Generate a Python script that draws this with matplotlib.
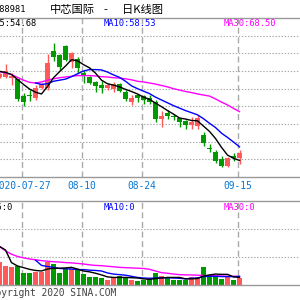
import matplotlib
matplotlib.use("Agg")
import matplotlib.pyplot as plt
import numpy as np

plt.rcParams['lines.scale_dashes'] = False

# trading-day index, 0 = 2020-07-27 (the left 4 days are 07-21 .. 07-24)
days = np.arange(-4, 37)

opens = [78.3, 78.3, 78.0, 77.6, 73.0, 73.0, 72.4, 75.3, 75.2, 85.6, 84.6, 87.1, 82.6, 83.5,
         79.4, 78.3, 76.8, 76.1, 75.2, 74.95, 76.35, 74.1, 71.3, 73.1, 72.85, 72.4, 71.1, 66.3,
         68.1, 67.2, 66.6, 65.8, 64.7, 64.4, 61.9, 58.3, 57.1, 55.1, 53.2, 56.0, 55.3]
highs = [79.5, 82.0, 79.4, 77.8, 73.8, 74.6, 76.0, 76.6, 84.8, 88.0, 84.9, 87.3, 85.4, 83.9,
         80.4, 78.7, 77.1, 77.1, 76.6, 76.8, 76.6, 74.75, 73.3, 73.5, 73.3, 73.3, 71.8, 68.8,
         69.1, 67.9, 66.8, 66.0, 66.9, 67.6, 62.85, 59.3, 57.6, 56.0, 55.8, 56.7, 57.6]
lows = [78.0, 77.9, 76.0, 71.6, 70.0, 71.6, 71.8, 74.8, 74.7, 82.9, 80.4, 82.8, 80.9, 79.5,
        76.6, 76.3, 74.0, 73.8, 74.7, 74.0, 74.0, 71.65, 70.5, 71.3, 70.7, 70.8, 65.6, 64.1,
        66.3, 66.0, 64.1, 63.6, 63.5, 63.5, 58.8, 57.2, 54.1, 52.7, 52.9, 54.6, 53.7]
closes = [79.2, 79.9, 78.5, 72.1, 71.1, 72.8, 75.3, 76.3, 82.3, 84.0, 81.2, 83.2, 85.15, 80.8,
          78.5, 76.7, 75.7, 75.2, 76.0, 76.35, 74.3, 72.2, 72.4, 72.4, 71.9, 71.3, 66.3, 67.4,
          67.2, 67.0, 65.7, 64.7, 65.6, 66.6, 59.5, 58.0, 54.6, 53.2, 55.5, 55.3, 56.7]

ma5 = [79.9, 79.6, 79.0, 77.6, 76.2, 74.9, 74.0, 73.5, 75.6, 78.1, 79.8, 81.4, 83.2, 82.9,
       81.8, 80.9, 79.4, 77.4, 76.4, 76.0, 75.5, 74.8, 74.2, 73.5, 72.6, 72.0, 70.9, 69.9,
       68.8, 67.8, 66.7, 66.4, 66.0, 65.9, 64.4, 62.9, 60.9, 58.4, 56.2, 55.3, 54.68]
ma10 = [None] * 6 + [76.6, 76.2, 76.4, 77.1, 77.4, 77.7, 78.4, 79.2, 80.0, 80.4, 80.4, 80.3,
                     79.7, 78.9, 78.2, 77.1, 75.8, 75.0, 74.3, 73.6, 72.6, 71.8, 71.0, 70.2,
                     69.5, 68.8, 68.2, 67.6, 66.5, 65.2, 64.0, 62.4, 61.2, 59.9, 58.53]
ma30 = [79.8, 79.4, 79.0, 78.2, 77.4, 76.8, 76.6, 76.9, 77.4, 77.8, 78.1, 78.3, 78.5, 78.7,
        78.7, 78.7, 78.6, 78.4, 78.3, 78.1, 78.0, 77.8, 77.5, 77.1, 76.9, 76.6, 76.3, 75.9,
        75.5, 75.0, 74.6, 74.2, 73.9, 73.5, 73.2, 72.9, 72.1, 71.2, 70.4, 69.4, 68.50]

volumes = [83, 68, 65, 69, 44, 44, 48, 48, 83, 75, 44, 57, 57, 54, 39, 30, 30, 26, 18, 30, 32,
           30, 18, 14, 18, 21, 42, 32, 24, 18, 18, 18, 30, 30, 65, 36, 36, 21, 32, 18, 26]
vol_ma5 = [138, 125, 80, 68, 62, 56, 52, 50, 57, 60, 60, 61, 63, 57, 50, 47, 42, 36, 29, 27,
           27, 27, 26, 25, 22, 20, 23, 25, 27, 27, 27, 22, 22, 23, 32, 36, 39, 38, 38, 29, 27]
vol_ma10 = [None] * 6 + [89, 70, 66, 63, 59, 58, 57, 55, 55, 53, 52, 50, 43, 39, 37, 35, 31,
                         27, 25, 24, 25, 26, 26, 25, 24, 22, 24, 25, 30, 31, 31, 30, 30, 30, 31]
vol_ma30 = [137, 122, 110, 102, 97, 93, 90, 87, 85, 83, 82, 80, 79, 77, 75, 72, 70, 69, 67, 65,
            63, 62, 61, 60, 59, 56, 50, 44, 42, 39, 37, 36, 36, 35, 34, 33, 33, 32, 31, 31, 30]
vol_ma_labels = [0, 0, 0]

date_days = [0, 10, 20, 36]
date_labels = ["2020-07-27", "08-10", "08-24", "09-15"]

RED = '#ff5a5a'
GREEN = '#009a00'
GRID = '#aaaaaa'
MONO = 'DejaVu Sans Mono'
CJK = ['Noto Sans CJK SC', 'DejaVu Sans']

opens = np.array(opens); closes = np.array(closes)
highs = np.array(highs); lows = np.array(lows)
up = closes >= opens
colors = np.where(up, RED, GREEN)

def to_float(a):
    return np.array([np.nan if v is None else v for v in a], dtype=float)

fig = plt.figure(figsize=(3, 3), dpi=100)
fig.patch.set_facecolor('white')

def fx(px):
    return px / 300.0

def fy(py):
    return 1 - py / 300.0

ax = fig.add_axes([0, fy(177), 1, 159 / 300])
axv = fig.add_axes([0, fy(285), 1, 84 / 300])

xlim = (-23.5 / 6, 276.5 / 6)
for a in (ax, axv):
    a.set_xlim(*xlim)
    a.set_xticks([])
    a.set_yticks([])
    for s in ('left', 'right'):
        a.spines[s].set_visible(False)
    for s in ('top', 'bottom'):
        a.spines[s].set_color('#999999')
        a.spines[s].set_linewidth(1.0)
    for d in date_days:
        a.axvline(d - 0.3, color=GRID, lw=1.0, linestyle=(0, (4.3, 2.6)), zorder=0)

# price panel
ax.set_ylim(50, 95)
for y in range(55, 95, 5):
    ax.axhline(y, color=GRID, lw=0.8, linestyle=(0, (1, 1.2)), zorder=0)

ax.vlines(days, lows, highs, colors=colors, lw=1.0, zorder=2)
body_bottom = np.minimum(opens, closes)
body_h = np.maximum(np.abs(closes - opens), 0.3)
ax.bar(days, body_h, bottom=body_bottom, width=0.8, color=colors, edgecolor='none', zorder=3)

ax.plot(days, ma30, color='#ff00ff', lw=1.0, zorder=4)
ax.plot(days, to_float(ma10), color='#0000ff', lw=1.0, zorder=4)
ax.plot(days, ma5, color='black', lw=1.0, zorder=5)

# volume panel
axv.set_ylim(0, 300)
for y in (100, 200):
    axv.axhline(y, color=GRID, lw=0.8, linestyle=(0, (1, 1.2)), zorder=0)
axv.bar(days, volumes, width=0.8, color=colors, edgecolor='none', zorder=2)
axv.plot(days, vol_ma30, color='#ff00ff', lw=1.0, zorder=3)
axv.plot(days, to_float(vol_ma10), color='#0000ff', lw=1.0, zorder=3)
axv.plot(days, vol_ma5, color='black', lw=1.0, zorder=4)

# texts
fig.text(fx(26), fy(10), "688981", fontsize=6.3, family=MONO, ha='right', va='center')
fig.text(fx(50), fy(10), "中芯国际", fontsize=8.1, family=CJK, ha='left', va='center')
fig.text(fx(105), fy(10), "-", fontsize=8.1, family=CJK, ha='center', va='center')
fig.text(fx(122), fy(10), "日K线图", fontsize=8.1, family=CJK, ha='left', va='center')

fig.text(fx(-10.4), fy(24), "MA5:%.2f" % ma5[-1], fontsize=6.3, family=MONO,
         color='black', ha='left', va='center')
fig.text(fx(104), fy(24), "MA10:%.2f" % ma10[-1], fontsize=6.3, family=MONO,
         color='#0000ff', ha='left', va='center')
fig.text(fx(224), fy(24), "MA30:%.2f" % ma30[-1], fontsize=6.3, family=MONO,
         color='#ff00ff', ha='left', va='center')

fig.text(fx(-13.6), fy(207), "MA5:%d" % vol_ma_labels[0], fontsize=6.3, family=MONO,
         color='black', ha='left', va='center')
fig.text(fx(104), fy(207), "MA10:%d" % vol_ma_labels[1], fontsize=6.3, family=MONO,
         color='#0000ff', ha='left', va='center')
fig.text(fx(224), fy(207), "MA30:%d" % vol_ma_labels[2], fontsize=6.3, family=MONO,
         color='#ff00ff', ha='left', va='center')

for d, lab in zip(date_days, date_labels):
    px = 23.5 + 6 * d - 1.8
    fig.text(fx(px), fy(186), lab, fontsize=6.9, family=MONO, color='#0a78d2',
             ha='center', va='center')

fig.text(fx(116.7), fy(293), "Copyright 2020 SINA.COM", fontsize=6.9, family=MONO,
         color='#444444', ha='right', va='center')

fig.savefig("out.png", dpi=100)
